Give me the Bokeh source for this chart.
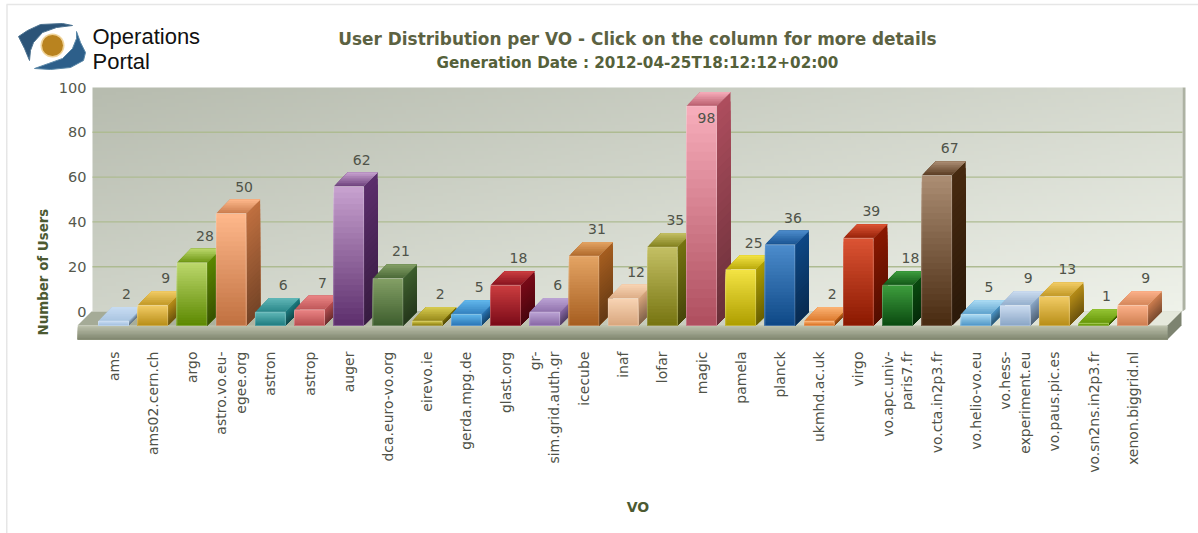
import math
import numpy as np
from bokeh.plotting import figure
from bokeh.layouts import column, row
from bokeh.models import ColumnDataSource, FixedTicker, Title
from bokeh.core.properties import value
from bokeh.embed import file_html
from bokeh.resources import INLINE

vo_names = ["ams", "ams02.cern.ch", "argo", "astro.vo.eu-\negee.org", "astron", "astrop", "auger",
            "dca.euro-vo.org", "eirevo.ie", "gerda.mpg.de", "glast.org", "gr-\nsim.grid.auth.gr",
            "icecube", "inaf", "lofar", "magic", "pamela", "planck", "ukmhd.ac.uk", "virgo",
            "vo.apc.univ-\nparis7.fr", "vo.cta.in2p3.fr", "vo.helio-vo.eu", "vo.hess-\nexperiment.eu",
            "vo.paus.pic.es", "vo.sn2ns.in2p3.fr", "xenon.biggrid.nl"]
users = [2, 9, 28, 50, 6, 7, 62, 21, 2, 5, 18, 6, 31, 12, 35, 98, 25, 36, 2, 39, 18, 67, 5, 9, 13, 1, 9]
y_ticks = [0, 20, 40, 60, 80, 100]
title_text = "User Distribution per VO - Click on the column for more details"
subtitle_text = "Generation Date : 2012-04-25T18:12:12+02:00"

color_top = ["#c8dcf2", "#f2cc66", "#bcd86c", "#ffb98c", "#62b8b8", "#ea8484", "#c8a2d0", "#84a066", "#d8cc50",
             "#62b8ec", "#cc3e40", "#bca4d4", "#e4a464", "#f8d4b4", "#c4c064", "#f8aebc", "#f4e444", "#4c8ccc",
             "#fcb474", "#dc5434", "#3e9e3e", "#ac8e74", "#acdcf4", "#ccdcf0", "#f2cc66", "#94c434", "#fcb18a"]
color_bot = ["#a4c0de", "#b88e18", "#5c8800", "#c07040", "#1e7c80", "#b64e50", "#5c2e6c", "#3e5e2e", "#8a7c10",
             "#2a76b6", "#7a0a18", "#8868a6", "#a65e20", "#d8a67e", "#767410", "#ae4e5e", "#ae9e00", "#0e4886",
             "#d66e20", "#8a1800", "#0a4a10", "#482a10", "#4e96c6", "#8aa6c6", "#b88e18", "#5e8e00", "#ce7e50"]

# page-pixel geometry of the pseudo-3D box
PX_PER_CAT = 39.2
PX_PER_UNIT = 2.24
CAT0_X = 113.0
ZERO_Y = 311.0
FRAME_L, FRAME_R, FRAME_T, FRAME_B = 77.0, 1198.0, 80.0, 341.0
HALF = 15 / PX_PER_CAT
DX = 14 / PX_PER_CAT
DY = 14 / PX_PER_UNIT


def hex2rgb(c):
    return np.array([int(c[i:i + 2], 16) for i in (1, 3, 5)], dtype=float)


def rgb2hex(a):
    a = np.clip(np.round(a), 0, 255).astype(int)
    return "#%02x%02x%02x" % tuple(a)


def mix(a, b, t):
    return a * (1 - t) + b * t


def cx(px):
    return (px - CAT0_X) / PX_PER_CAT


def vy(py):
    return (ZERO_Y - py) / PX_PER_UNIT


# ---------- header ----------
head = figure(width=1198, height=80, x_range=(0, 1198), y_range=(80, 0), toolbar_location=None,
              output_backend="svg", min_border=0, outline_line_color=None)
head.xaxis.visible = False
head.yaxis.visible = False
head.grid.visible = False
head.segment([6, 6.5], [4, 4], [1198, 6.5], [4, 80], line_color="#e6e6e6", line_width=1.5)
head.patches(
    [[18, 27, 40, 62, 72, 56, 42, 33, 30, 29, 24],
     [76, 80, 85, 83, 70, 50, 34, 48, 62, 72, 76]],
    [[36, 30, 24, 23, 25, 27, 32, 42, 50, 60, 48],
     [31, 42, 52, 60, 67, 69, 68, 63, 58, 48, 38]],
    fill_color=["#2c5478", "#2d5f8a"], line_color=["#4d7391", "#5a88a8"], line_width=1)
head.circle([52], [45], radius=12, fill_color="#f0d49a", line_color=None)
head.circle([52], [45], radius=10.5, fill_color="#b9831f", line_color=None)
head.text([92, 92], [36, 61], text=["Operations", "Portal"], text_font=value("Liberation Sans"),
          text_font_size="22px", text_color="#111111", text_baseline="middle", text_align="left")
head.text([637], [38], text=[title_text], text_font=value("DejaVu Sans"), text_font_style="bold",
          text_font_size="16.9px", text_color="#5c6242", text_baseline="middle", text_align="center")
head.text([637], [62], text=[subtitle_text], text_font=value("DejaVu Sans"), text_font_style="bold",
          text_font_size="15.2px", text_color="#55613a", text_baseline="middle", text_align="center")

# ---------- chart ----------
p = figure(width=1198, height=453, x_range=(cx(FRAME_L), cx(FRAME_R)), y_range=(vy(FRAME_B), vy(FRAME_T)),
           toolbar_location=None, output_backend="svg", min_border_left=77, min_border_right=0,
           min_border_top=0, min_border_bottom=192, outline_line_color=None,
           border_fill_color=None, background_fill_color=None,
           x_axis_label="VO")
p.grid.visible = False

# wall as a diagonal gradient image
h, w = 60, 240
yy, xx = np.mgrid[0:h, 0:w]
t = (xx / (w - 1) * 0.55 + (h - 1 - yy) / (h - 1) * 0.45)[..., None]
rgb = mix(hex2rgb("#b7bcaf"), hex2rgb("#eff2ea"), t)
img = np.dstack([rgb, np.full((h, w), 255.0)]).astype(np.uint8)
view = img.view(dtype=np.uint32).reshape(h, w)
wall_l, wall_r = cx(92), cx(1182)
p.image_rgba(image=[view], x=wall_l, y=0, dw=wall_r - wall_l, dh=100)

# right sliver of the wall
p.patches([[wall_r, wall_r + 3 / PX_PER_CAT, wall_r + 3 / PX_PER_CAT, wall_r]],
          [[0, 1, 100, 100]], fill_color="#adb2a3", line_color=None)

# gridlines
inner = y_ticks[1:-1]
p.segment(x0=[wall_l] * len(inner), x1=[wall_r] * len(inner), y0=inner, y1=inner,
          line_color="#aebb92", line_width=1.4)

# floor + slab
left, right = cx(77), cx(1167)
xs, ys, cols = [], [], []
N = 24
for i in range(N):
    a, b = i / N, 1.0
    xs.append([left + DX + (right - left) * a, left + DX + (right - left) * b,
               left + (right - left) * b, left + (right - left) * a])
    ys.append([0, 0, -DY, -DY])
    cols.append(rgb2hex(mix(hex2rgb("#a4aa95"), hex2rgb("#e6e9de"), (i + .5) / N)))
for i in range(10):
    a = -DY - DY * i / 10
    xs.append([left, right, right, left])
    ys.append([a, a, -2 * DY, -2 * DY])
    cols.append(rgb2hex(mix(hex2rgb("#bdc2ad"), hex2rgb("#80866f"), (i + .5) / 10)))
xs.append([right, right + DX, right + DX, right])
ys.append([-DY, 0, -DY, -2 * DY])
cols.append("#7d8370")
p.patches(xs, ys, fill_color=cols, line_color=None)

# bars, left to right so each hides the side of the one before it
S = 24
for i, v in enumerate(users):
    xs, ys, cols = [], [], []
    top = hex2rgb(color_top[i])
    bot = hex2rgb(color_bot[i])
    l, r = i - HALF, i + HALF
    y0, y1 = -DY, v - DY
    # side (each strip runs to the foot of the bar, later strips paint over)
    for k in range(S):
        a = y1 + (y0 - y1) * k / S
        xs.append([r, r + DX, r + DX, r])
        ys.append([a, a + DY, y0 + DY, y0])
        cols.append(rgb2hex(mix(bot * 1.0, bot * 0.6, (k + .5) / S)))
    # top
    for k in range(8):
        a = k / 8
        xs.append([l + DX * a, r + DX * a, r + DX, l + DX])
        ys.append([y1 + DY * a, y1 + DY * a, y1 + DY, y1 + DY])
        cols.append(rgb2hex(mix(bot * 0.85 + top * 0.15, top, (k + .5) / 8)))
    # front
    for k in range(S):
        a = y1 + (y0 - y1) * k / S
        xs.append([l, r, r, l])
        ys.append([a, a, y0, y0])
        cols.append(rgb2hex(mix(top, bot, (k + .5) / S)))
    p.patches(xs, ys, fill_color=cols, line_color=None)

# pale rim on the bar fronts
p.quad(left=[i - HALF for i in range(len(users))], right=[i + HALF for i in range(len(users))],
       top=[v - DY for v in users], bottom=[-DY] * len(users),
       fill_color=None, line_color="#ffffff", line_alpha=0.22, line_width=1)

# value labels: above the back edge, except when they would leave the wall
lab_x = [i + 13 / PX_PER_CAT if v < 90 else i + 5 / PX_PER_CAT for i, v in enumerate(users)]
lab_y = [v + 13 / PX_PER_UNIT if v < 90 else v - 26 / PX_PER_UNIT for v in users]
src = ColumnDataSource(dict(x=lab_x, y=lab_y, t=[str(v) for v in users]))
p.text("x", "y", text="t", source=src, text_font=value("DejaVu Sans"), text_font_size="14px",
       text_color="#4f5349", text_align="center", text_baseline="middle")

# axes
p.yaxis.ticker = FixedTicker(ticks=y_ticks)
p.yaxis.axis_line_color = None
p.yaxis.major_tick_line_color = None
p.yaxis.minor_tick_line_color = None
p.yaxis.major_label_standoff = -15
p.yaxis.major_label_text_font = "DejaVu Sans"
p.yaxis.major_label_text_font_size = "14.5px"
p.yaxis.major_label_text_color = "#55584c"

# the y label sits lower than the frame's centre in the reference, so it is a left title with an offset
p.add_layout(Title(text="Number of Users", align="left", offset=6, standoff=10,
                   text_font="DejaVu Sans", text_font_style="bold", text_font_size="13.4px",
                   text_color="#4c5a32"), "left")

p.xaxis.ticker = FixedTicker(ticks=list(range(len(vo_names))))
p.xaxis.major_label_overrides = dict(enumerate(vo_names))
p.xaxis.major_label_orientation = math.pi / 2
p.xaxis.axis_line_color = None
p.xaxis.major_tick_line_color = None
p.xaxis.minor_tick_line_color = None
p.xaxis.major_label_standoff = 4
p.xaxis.major_label_text_font = "DejaVu Sans"
p.xaxis.major_label_text_font_size = "14px"
p.xaxis.major_label_text_color = "#4f5248"
p.xaxis.axis_label_text_font = "DejaVu Sans"
p.xaxis.axis_label_text_font_style = "bold"
p.xaxis.axis_label_text_font_size = "14px"
p.xaxis.axis_label_text_color = "#4c5a32"
p.xaxis.axis_label_standoff = 23

chart_row = row(p, styles={"background": "linear-gradient(#e6e6e6,#e6e6e6) 6px 0 / 1.5px 100% no-repeat"})
page = column(row(head), chart_row, spacing=0)
open("out.html", "w").write(file_html(page, INLINE))
